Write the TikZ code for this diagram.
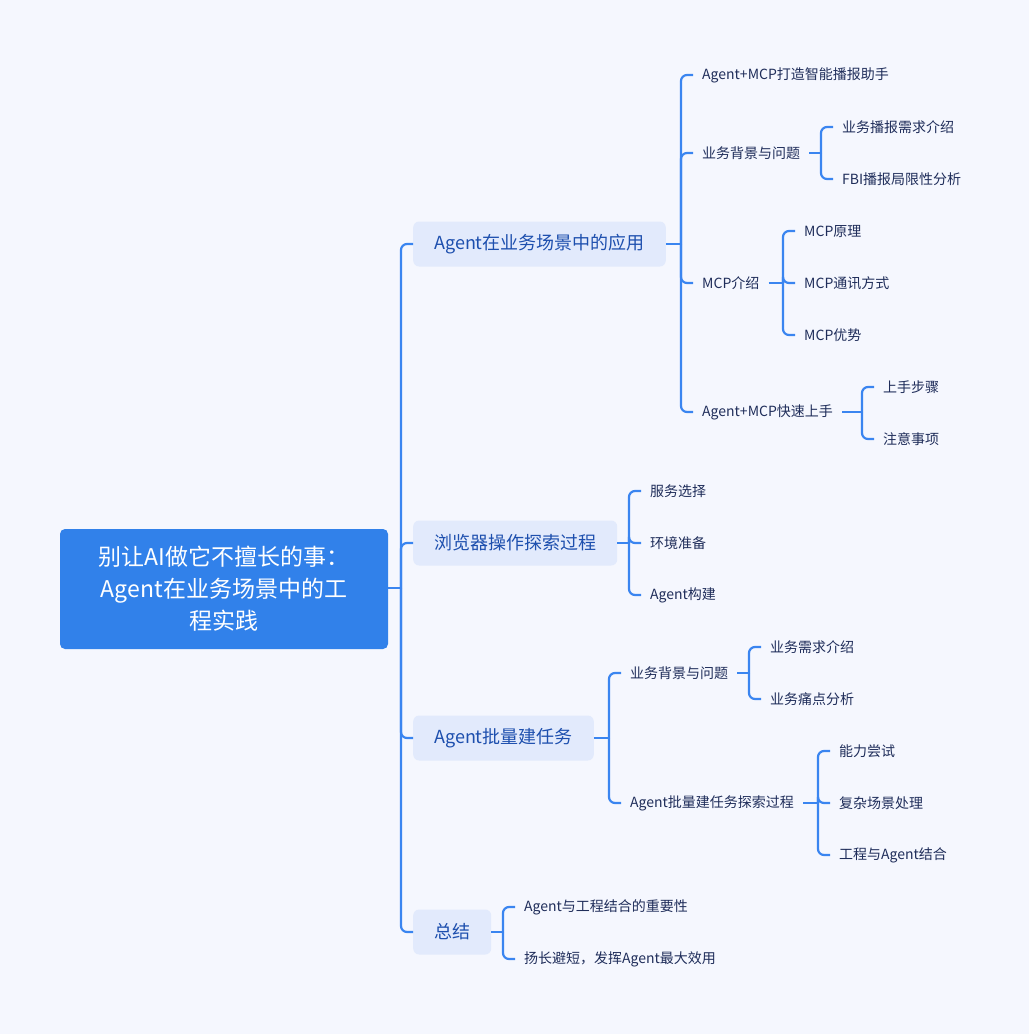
\documentclass[tikz,border=0pt]{standalone}
\usepackage{fontspec}
\setmainfont{Noto Sans CJK SC}
\usetikzlibrary{calc}
\definecolor{bg}{HTML}{F5F7FE}
\definecolor{rootc}{HTML}{3181EA}
\definecolor{boxc}{HTML}{E2EAFC}
\definecolor{linec}{HTML}{3A85F0}
\definecolor{l1txt}{HTML}{1D4FAE}
\definecolor{leaftxt}{HTML}{1F2D5A}
\tikzset{
  rootbox/.style={fill=rootc, rounded corners=5pt, minimum width=328pt, minimum height=120pt, text=white, align=center, font=\fontsize{23}{32}\selectfont, inner sep=0pt},
  lonebox/.style={fill=boxc, rounded corners=6pt, minimum height=45pt, inner xsep=21pt, inner ysep=0pt, text=l1txt, font=\fontsize{18}{22}\selectfont},
  leaf/.style={inner xsep=9pt, inner ysep=2pt, text=leaftxt, font=\fontsize{14}{17}\selectfont},
  conn/.style={draw=linec, line width=2.2pt, rounded corners=6pt},
}
\begin{document}
\begin{tikzpicture}[x=1pt,y=-1pt]
\fill[bg] (0,0) rectangle (1029,1034);
\useasboundingbox (0,0) rectangle (1029,1034);

\node[rootbox] (root) at (224,589) {别让AI做它不擅长的事：\\Agent在业务场景中的工\\程实践};

% level 1
\node[lonebox, anchor=west] (b1) at (413,244) {Agent在业务场景中的应用};
\node[lonebox, anchor=west] (b2) at (413,543) {浏览器操作探索过程};
\node[lonebox, anchor=west] (b3) at (413,738) {Agent批量建任务};
\node[lonebox, anchor=west] (b4) at (413,932) {总结};

\coordinate (j0) at (401,588);
\draw[conn] (root.east |- j0) -- (j0);
\foreach \b in {b1,b2,b3,b4} \draw[conn] (j0) |- (\b.west);

% branch 1
\node[leaf, anchor=west] (c11) at (693,75) {Agent+MCP打造智能播报助手};
\node[leaf, anchor=west] (c12) at (693,153) {业务背景与问题};
\node[leaf, anchor=west] (c13) at (693,283) {MCP介绍};
\node[leaf, anchor=west] (c14) at (693,412) {Agent+MCP快速上手};
\coordinate (j1) at (681,244);
\draw[conn] (b1.east) -- (j1);
\foreach \c in {c11,c12,c13,c14} \draw[conn] (j1) |- (\c.west);

\node[leaf, anchor=west] (d121) at (833,127) {业务播报需求介绍};
\node[leaf, anchor=west] (d122) at (833,179) {FBI播报局限性分析};
\coordinate (j12) at (821,153);
\draw[conn] (c12.east) -- (j12);
\foreach \c in {d121,d122} \draw[conn] (j12) |- (\c.west);

\node[leaf, anchor=west] (d131) at (795,231) {MCP原理};
\node[leaf, anchor=west] (d132) at (795,283) {MCP通讯方式};
\node[leaf, anchor=west] (d133) at (795,335) {MCP优势};
\coordinate (j13) at (783,283);
\draw[conn] (c13.east) -- (j13);
\foreach \c in {d131,d132,d133} \draw[conn] (j13) |- (\c.west);

\node[leaf, anchor=west] (d141) at (874,387) {上手步骤};
\node[leaf, anchor=west] (d142) at (874,439) {注意事项};
\coordinate (j14) at (862,412);
\draw[conn] (c14.east) -- (j14);
\foreach \c in {d141,d142} \draw[conn] (j14) |- (\c.west);

% branch 2
\node[leaf, anchor=west] (c21) at (641,491) {服务选择};
\node[leaf, anchor=west] (c22) at (641,543) {环境准备};
\node[leaf, anchor=west] (c23) at (641,595) {Agent构建};
\coordinate (j2) at (629,543);
\draw[conn] (b2.east) -- (j2);
\foreach \c in {c21,c22,c23} \draw[conn] (j2) |- (\c.west);

% branch 3
\node[leaf, anchor=west] (c31) at (621,673) {业务背景与问题};
\node[leaf, anchor=west] (c32) at (621,803) {Agent批量建任务探索过程};
\coordinate (j3) at (609,738);
\draw[conn] (b3.east) -- (j3);
\foreach \c in {c31,c32} \draw[conn] (j3) |- (\c.west);

\node[leaf, anchor=west] (d311) at (761,647) {业务需求介绍};
\node[leaf, anchor=west] (d312) at (761,699) {业务痛点分析};
\coordinate (j31) at (749,673);
\draw[conn] (c31.east) -- (j31);
\foreach \c in {d311,d312} \draw[conn] (j31) |- (\c.west);

\node[leaf, anchor=west] (d321) at (830,751) {能力尝试};
\node[leaf, anchor=west] (d322) at (830,803) {复杂场景处理};
\node[leaf, anchor=west] (d323) at (830,855) {工程与Agent结合};
\coordinate (j32) at (818,803);
\draw[conn] (c32.east) -- (j32);
\foreach \c in {d321,d322,d323} \draw[conn] (j32) |- (\c.west);

% branch 4
\node[leaf, anchor=west] (c41) at (515,907) {Agent与工程结合的重要性};
\node[leaf, anchor=west] (c42) at (515,959) {扬长避短，发挥Agent最大效用};
\coordinate (j4) at (503,932);
\draw[conn] (b4.east) -- (j4);
\foreach \c in {c41,c42} \draw[conn] (j4) |- (\c.west);
\end{tikzpicture}
\end{document}
